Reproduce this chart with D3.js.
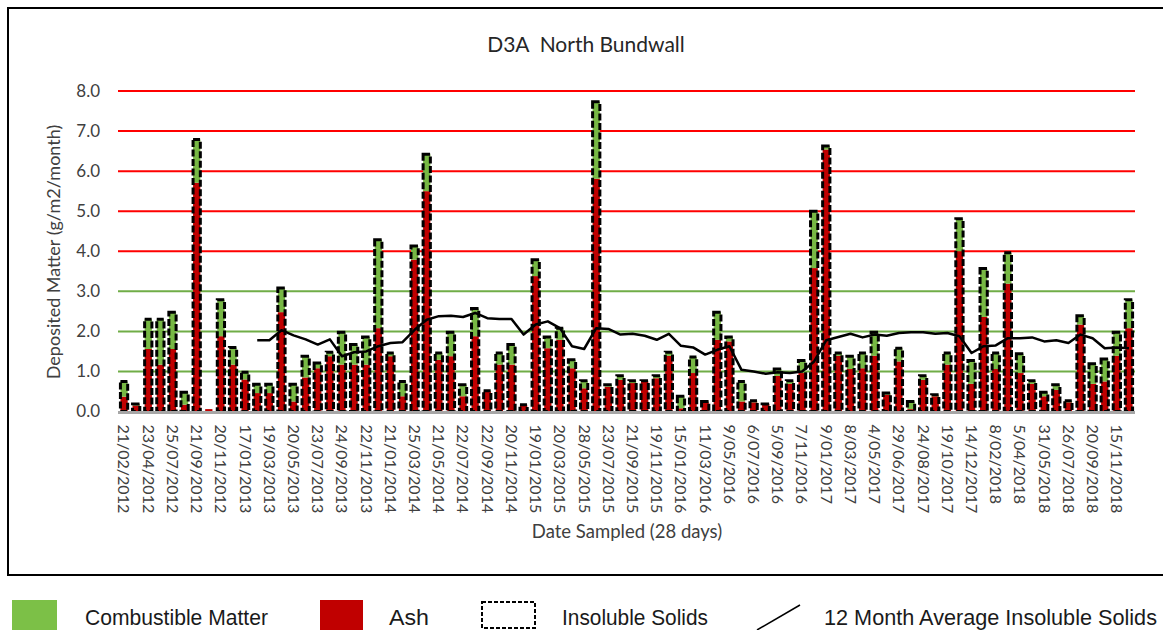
<!DOCTYPE html>
<html>
<head>
<meta charset="utf-8">
<script src="https://cdn.jsdelivr.net/npm/d3@7"></script>
<style>
  html, body { margin: 0; padding: 0; background: #fff; }
  svg { display: block; }
</style>
</head>
<body>
<svg id="chart" width="1163" height="630"></svg>
<script>
// ---- Data ----
const dates = [
  "21/02/2012","21/03/2012","23/04/2012","8/06/2012","25/07/2012","23/08/2012","21/09/2012","21/10/2012",
  "20/11/2012","19/12/2012","17/01/2013","18/02/2013","19/03/2013","19/04/2013","20/05/2013","21/06/2013",
  "23/07/2013","23/08/2013","24/09/2013","23/10/2013","22/11/2013","23/12/2013","21/01/2014","21/02/2014",
  "25/03/2014","23/04/2014","21/05/2014","21/06/2014","22/07/2014","22/08/2014","22/09/2014","21/10/2014",
  "20/11/2014","20/12/2014","19/01/2015","17/02/2015","20/03/2015","24/04/2015","28/05/2015","25/06/2015",
  "23/07/2015","22/08/2015","21/09/2015","20/10/2015","19/11/2015","17/12/2015","15/01/2016","12/02/2016",
  "11/03/2016","10/04/2016","9/05/2016","7/06/2016","6/07/2016","5/08/2016","5/09/2016","6/10/2016",
  "7/11/2016","8/12/2016","9/01/2017","6/02/2017","8/03/2017","6/04/2017","4/05/2017","1/06/2017",
  "29/06/2017","27/07/2017","24/08/2017","21/09/2017","19/10/2017","16/11/2017","14/12/2017","11/01/2018",
  "8/02/2018","8/03/2018","5/04/2018","3/05/2018","31/05/2018","28/06/2018","26/07/2018","23/08/2018",
  "20/09/2018","18/10/2018","15/11/2018","13/12/2018"
];

const ash = [
  0.37,0.15,1.56,1.17,1.56,0.17,5.71,0.06,1.88,1.17,0.80,0.46,0.46,2.48,0.25,0.85,
  1.08,1.38,1.17,1.17,1.17,2.08,1.38,0.38,3.79,5.50,1.29,1.38,0.38,1.88,0.50,1.17,
  1.17,0.17,3.38,1.58,1.79,1.08,0.58,5.81,0.62,0.79,0.71,0.75,0.83,1.39,0.08,0.96,
  0.23,1.79,1.75,0.25,0.23,0.19,0.89,0.69,0.96,3.58,6.54,1.39,1.06,1.08,1.39,0.42,
  1.25,0.06,0.79,0.38,1.17,4.00,0.69,2.36,1.06,3.19,0.96,0.69,0.38,0.54,0.23,2.17,
  0.69,0.75,1.39,2.08
];

const combustible = [
  0.38,0.04,0.74,1.13,0.92,0.31,1.08,0.00,0.91,0.43,0.18,0.22,0.22,0.60,0.43,0.53,
  0.13,0.10,0.81,0.50,0.69,2.21,0.08,0.37,0.34,0.92,0.17,0.60,0.29,0.69,0.02,0.29,
  0.50,0.00,0.41,0.28,0.29,0.21,0.19,1.92,0.05,0.10,0.06,0.02,0.06,0.09,0.30,0.40,
  0.02,0.69,0.11,0.50,0.04,0.00,0.17,0.08,0.31,1.42,0.09,0.07,0.32,0.38,0.59,0.04,
  0.33,0.19,0.10,0.04,0.29,0.81,0.58,1.21,0.40,0.77,0.48,0.08,0.10,0.13,0.04,0.22,
  0.50,0.56,0.59,0.71
];

const insoluble = [
  0.75,0.19,2.30,2.30,2.48,0.48,6.79,null,2.79,1.60,0.98,0.68,0.68,3.08,0.68,1.38,
  1.21,1.48,1.98,1.67,1.86,4.29,1.46,0.75,4.13,6.42,1.46,1.98,0.67,2.57,0.52,1.46,
  1.67,0.17,3.79,1.86,2.08,1.29,0.77,7.73,0.67,0.89,0.77,0.77,0.89,1.48,0.38,1.36,
  0.25,2.48,1.86,0.75,0.27,0.19,1.06,0.77,1.27,5.00,6.63,1.46,1.38,1.46,1.98,0.46,
  1.58,0.25,0.89,0.42,1.46,4.81,1.27,3.57,1.46,3.96,1.44,0.77,0.48,0.67,0.27,2.39,
  1.19,1.31,1.98,2.79
];

const avg12 = [
  null,null,null,null,null,null,null,null,null,null,null,1.78,1.78,2.03,1.90,1.80,
  1.67,1.80,1.38,1.48,1.50,1.63,1.71,1.73,2.04,2.29,2.38,2.39,2.36,2.46,2.33,2.31,
  2.31,1.92,2.17,2.25,2.08,1.63,1.56,2.08,2.06,1.92,1.94,1.89,1.79,1.94,1.64,1.60,
  1.42,1.54,1.63,1.04,1.00,0.94,0.98,0.96,1.00,1.25,1.78,1.86,1.94,1.85,1.92,1.89,
  1.96,1.98,1.98,1.94,1.96,1.88,1.46,1.63,1.65,1.83,1.83,1.85,1.75,1.78,1.71,1.92,
  1.83,1.58,1.60,1.58
];

const yTicks = [0, 1, 2, 3, 4, 5, 6, 7, 8];
const redTicks = [4, 5, 6, 7, 8];
const greenTicks = [1, 2, 3];

const chartTitle = "D3A  North Bundwall";
const yTitle = "Deposited Matter (g/m2/month)";
const xTitle = "Date Sampled (28 days)";
const legendItems = ["Combustible Matter", "Ash", "Insoluble Solids", "12 Month Average Insoluble Solids"];

// ---- Styles ----
const C_GREEN = "#77B844";
const C_RED = "#C00000";
const C_TEXT = "#404040";
const FONT = "Lato, 'Open Sans', sans-serif";
const LFONT = "'Liberation Sans Narrow', 'Arial Narrow', 'Liberation Sans', Arial, sans-serif";

const svg = d3.select("#chart");
svg.append("rect").attr("width", 1163).attr("height", 630).attr("fill", "#fff");

// Outer frame
svg.append("rect")
  .attr("x", 8).attr("y", 8).attr("width", 1175).attr("height", 567)
  .attr("fill", "none").attr("stroke", "#000").attr("stroke-width", 2);

const L = 118, R = 1135, T = 91, B = 411.5;
const idx = d3.range(dates.length);
const x = d3.scaleBand().domain(idx).range([L, R]).paddingInner(0).paddingOuter(0);
const y = d3.scaleLinear().domain([0, 8]).range([B, T]);

// Gridlines
svg.append("g").selectAll("line").data(greenTicks).join("line")
  .attr("x1", L).attr("x2", R).attr("y1", d => y(d)).attr("y2", d => y(d))
  .attr("stroke", "#70AD47").attr("stroke-width", 2);
svg.append("g").selectAll("line").data(redTicks).join("line")
  .attr("x1", L).attr("x2", R).attr("y1", d => y(d)).attr("y2", d => y(d))
  .attr("stroke", "#FF0000").attr("stroke-width", 2);

// Bars
const bw = x.bandwidth() * 0.6;
const off = (x.bandwidth() - bw) / 2;
const gBars = svg.append("g");
gBars.selectAll("rect.ash").data(idx).join("rect")
  .attr("class", "ash")
  .attr("x", i => x(i) + off).attr("width", bw)
  .attr("y", i => y(ash[i])).attr("height", i => B - y(ash[i]))
  .attr("fill", C_RED);
gBars.selectAll("rect.comb").data(idx).join("rect")
  .attr("class", "comb")
  .attr("x", i => x(i) + off).attr("width", bw)
  .attr("y", i => y(ash[i] + combustible[i])).attr("height", i => y(ash[i]) - y(ash[i] + combustible[i]))
  .attr("fill", C_GREEN);
gBars.selectAll("rect.ins").data(idx.filter(i => insoluble[i] != null)).join("rect")
  .attr("class", "ins")
  .attr("x", i => x(i) + off).attr("width", bw)
  .attr("y", i => y(insoluble[i])).attr("height", i => B - y(insoluble[i]))
  .attr("fill", "none").attr("stroke", "#000").attr("stroke-width", 3)
  .attr("stroke-dasharray", "7,2.5");

// Baseline
svg.append("line").attr("x1", L).attr("x2", R).attr("y1", B + 1).attr("y2", B + 1)
  .attr("stroke", "#A6A6A6").attr("stroke-width", 3);

// Average line
const line = d3.line()
  .defined(i => avg12[i] != null)
  .x(i => x(i) + x.bandwidth() / 2)
  .y(i => y(avg12[i]));
svg.append("path").datum(idx).attr("d", line)
  .attr("fill", "none").attr("stroke", "#000").attr("stroke-width", 2.5)
  .attr("stroke-linejoin", "round");

// Y axis
const yAxis = svg.append("g").attr("transform", `translate(${L},0)`)
  .call(d3.axisLeft(y).tickValues(yTicks).tickFormat(d3.format(".1f")).tickSize(0).tickPadding(18));
yAxis.select(".domain").remove();
yAxis.selectAll("text").attr("font-family", FONT).attr("font-size", 17).attr("fill", C_TEXT);

// X axis
const xAxis = svg.append("g").attr("transform", `translate(0,${B})`)
  .call(d3.axisBottom(x).tickValues(idx.filter(i => i % 2 === 0)).tickFormat(i => dates[i]).tickSize(0));
xAxis.select(".domain").remove();
xAxis.selectAll("text")
  .attr("font-family", FONT).attr("font-size", 16).attr("fill", C_TEXT)
  .attr("text-anchor", "start")
  .attr("transform", "rotate(90)")
  .attr("x", 13).attr("y", 0).attr("dy", "0.35em");

// Titles
svg.append("text").attr("x", 586).attr("y", 52).attr("text-anchor", "middle")
  .style("white-space", "pre")
  .attr("font-family", FONT).attr("font-size", 21).attr("fill", "#262626").text(chartTitle);
svg.append("text").attr("transform", "translate(54,252) rotate(-90)").attr("text-anchor", "middle")
  .attr("dy", "0.35em")
  .attr("font-family", FONT).attr("font-size", 18).attr("fill", C_TEXT).text(yTitle);
svg.append("text").attr("x", 627).attr("y", 538).attr("text-anchor", "middle")
  .attr("font-family", FONT).attr("font-size", 18.5).attr("fill", C_TEXT).text(xTitle);

// Legend
const lg = svg.append("g");
lg.append("rect").attr("x", 12).attr("y", 600).attr("width", 45).attr("height", 32).attr("fill", "#7CC047");
lg.append("rect").attr("x", 320).attr("y", 600).attr("width", 43).attr("height", 32).attr("fill", "#C00000");
lg.append("rect").attr("x", 482).attr("y", 602).attr("width", 53).attr("height", 26)
  .attr("fill", "none").attr("stroke", "#000").attr("stroke-width", 2).attr("stroke-dasharray", "4,2");
lg.append("line").attr("x1", 757).attr("y1", 630).attr("x2", 800).attr("y2", 605)
  .attr("stroke", "#000").attr("stroke-width", 1.5);
const legendPos = [[85, 183], [389, 40], [562, 146], [824, 333]];
legendItems.forEach((t, k) => {
  lg.append("text").attr("x", legendPos[k][0]).attr("y", 625)
    .attr("font-family", LFONT).attr("font-size", 22).attr("fill", "#1a1a1a")
    .attr("textLength", legendPos[k][1]).attr("lengthAdjust", "spacingAndGlyphs")
    .text(t);
});
</script>
</body>
</html>
